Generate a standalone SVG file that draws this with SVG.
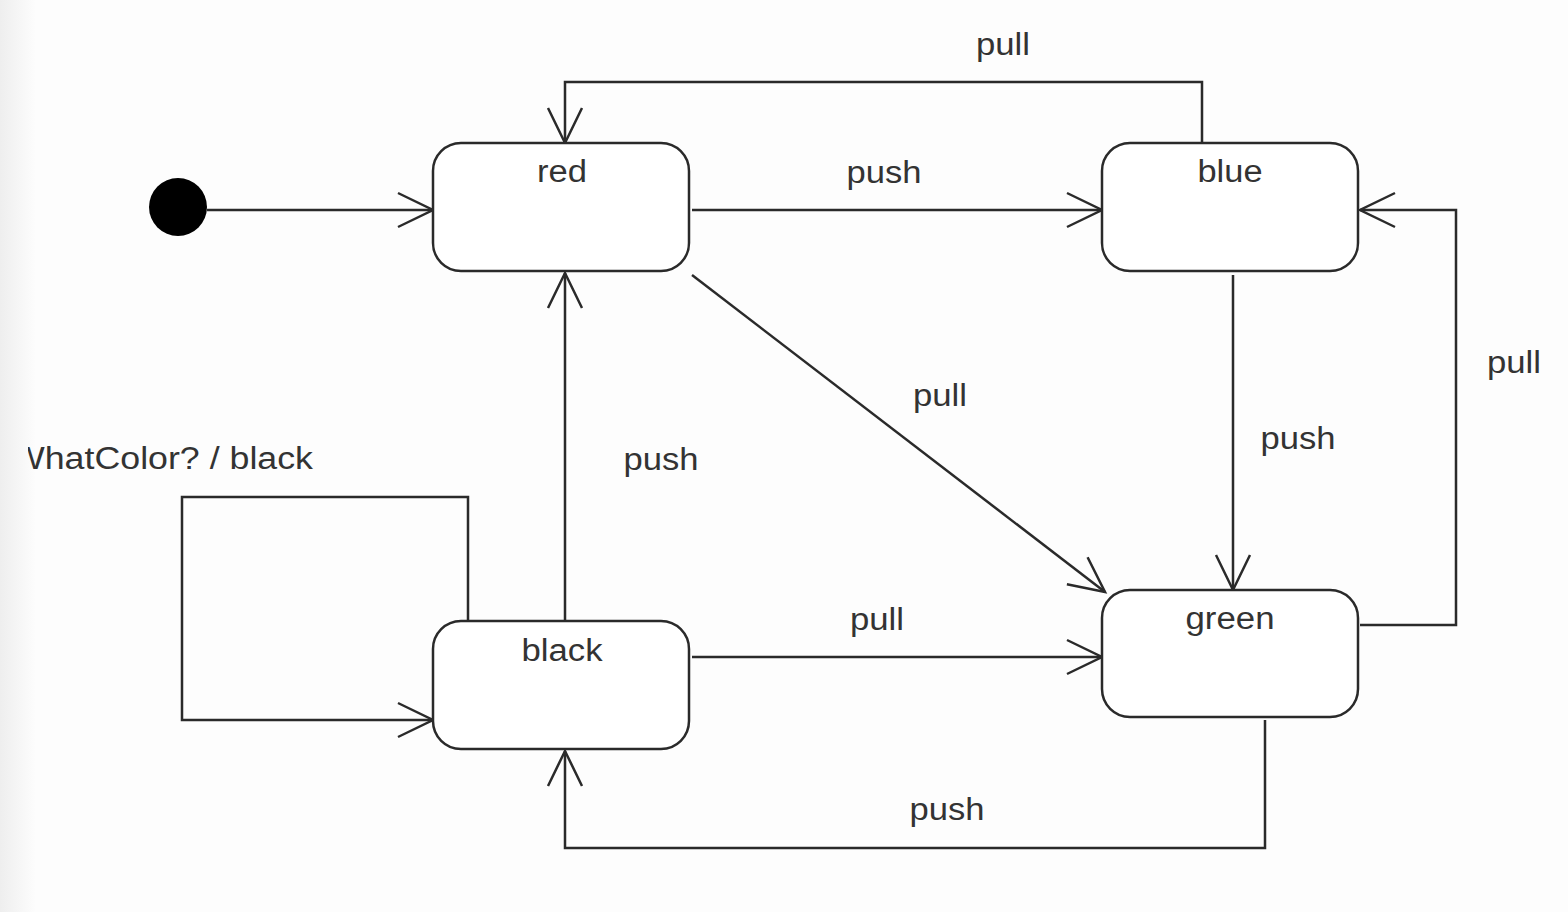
<svg xmlns="http://www.w3.org/2000/svg" width="1568" height="912" viewBox="0 0 1568 912">
  <style>
    .state { fill: #ffffff; stroke: #2a2a2a; stroke-width: 2.5; }
    .conn { fill: none; stroke: #2a2a2a; stroke-width: 2.5; }
    .lbl { font-family: "Liberation Sans", Arial, sans-serif; font-size: 31px; fill: #333333; text-anchor: middle; }
  </style>
  <defs>
    <marker id="open" markerUnits="userSpaceOnUse" markerWidth="44" markerHeight="44" refX="37" refY="20" orient="auto">
      <path d="M2,3 L37,20 L2,37" fill="none" stroke="#2a2a2a" stroke-width="2.5"/>
    </marker>
    <linearGradient id="edge" x1="0" y1="0" x2="1" y2="0">
      <stop offset="0" stop-color="#eeeeee"/>
      <stop offset="1" stop-color="#fdfdfd"/>
    </linearGradient>
    <clipPath id="clipL"><rect x="28" y="0" width="1540" height="912"/></clipPath>
  </defs>
  <rect width="1568" height="912" fill="#fdfdfd"/>
  <rect width="36" height="912" fill="url(#edge)"/>

  <g id="connectors">
    <line class="conn" x1="207" y1="210" x2="433" y2="210" marker-end="url(#open)"/>
    <line class="conn" x1="692" y1="210" x2="1102" y2="210" marker-end="url(#open)"/>
    <polyline class="conn" points="1202,143 1202,82 565,82 565,143" marker-end="url(#open)"/>
    <line class="conn" x1="692" y1="275" x2="1105" y2="592" marker-end="url(#open)"/>
    <line class="conn" x1="1233" y1="275" x2="1233" y2="590" marker-end="url(#open)"/>
    <polyline class="conn" points="1360,625 1456,625 1456,210 1360,210" marker-end="url(#open)"/>
    <line class="conn" x1="565" y1="621" x2="565" y2="273" marker-end="url(#open)"/>
    <line class="conn" x1="692" y1="657" x2="1102" y2="657" marker-end="url(#open)"/>
    <polyline class="conn" points="1265,720 1265,848 565,848 565,751" marker-end="url(#open)"/>
    <polyline class="conn" points="468,621 468,497 182,497 182,720 433,720" marker-end="url(#open)"/>
  </g>

  <g id="initial">
    <circle cx="178" cy="207" r="29" fill="#000000"/>
  </g>
  <g id="red">
    <rect class="state" x="433" y="143" width="256" height="128" rx="28" ry="28"/>
    <text class="lbl" x="562" y="182" textLength="50" lengthAdjust="spacingAndGlyphs">red</text>
  </g>
  <g id="blue">
    <rect class="state" x="1102" y="143" width="256" height="128" rx="28" ry="28"/>
    <text class="lbl" x="1230" y="182" textLength="65" lengthAdjust="spacingAndGlyphs">blue</text>
  </g>
  <g id="green">
    <rect class="state" x="1102" y="590" width="256" height="127" rx="28" ry="28"/>
    <text class="lbl" x="1230" y="629" textLength="89" lengthAdjust="spacingAndGlyphs">green</text>
  </g>
  <g id="black">
    <rect class="state" x="433" y="621" width="256" height="128" rx="28" ry="28"/>
    <text class="lbl" x="562" y="661" textLength="81" lengthAdjust="spacingAndGlyphs">black</text>
  </g>

  <g id="labels">
    <text class="lbl" x="884" y="183" textLength="75" lengthAdjust="spacingAndGlyphs">push</text>
    <text class="lbl" x="1003" y="55" textLength="54" lengthAdjust="spacingAndGlyphs">pull</text>
    <text class="lbl" x="940" y="406" textLength="54" lengthAdjust="spacingAndGlyphs">pull</text>
    <text class="lbl" x="1298" y="449" textLength="75" lengthAdjust="spacingAndGlyphs">push</text>
    <text class="lbl" x="1514" y="373" textLength="54" lengthAdjust="spacingAndGlyphs">pull</text>
    <text class="lbl" x="661" y="470" textLength="75" lengthAdjust="spacingAndGlyphs">push</text>
    <text class="lbl" x="877" y="630" textLength="54" lengthAdjust="spacingAndGlyphs">pull</text>
    <text class="lbl" x="947" y="820" textLength="75" lengthAdjust="spacingAndGlyphs">push</text>
    <text class="lbl" x="11" y="469" style="text-anchor:start" textLength="302" lengthAdjust="spacingAndGlyphs" clip-path="url(#clipL)">WhatColor? / black</text>
  </g>
</svg>
